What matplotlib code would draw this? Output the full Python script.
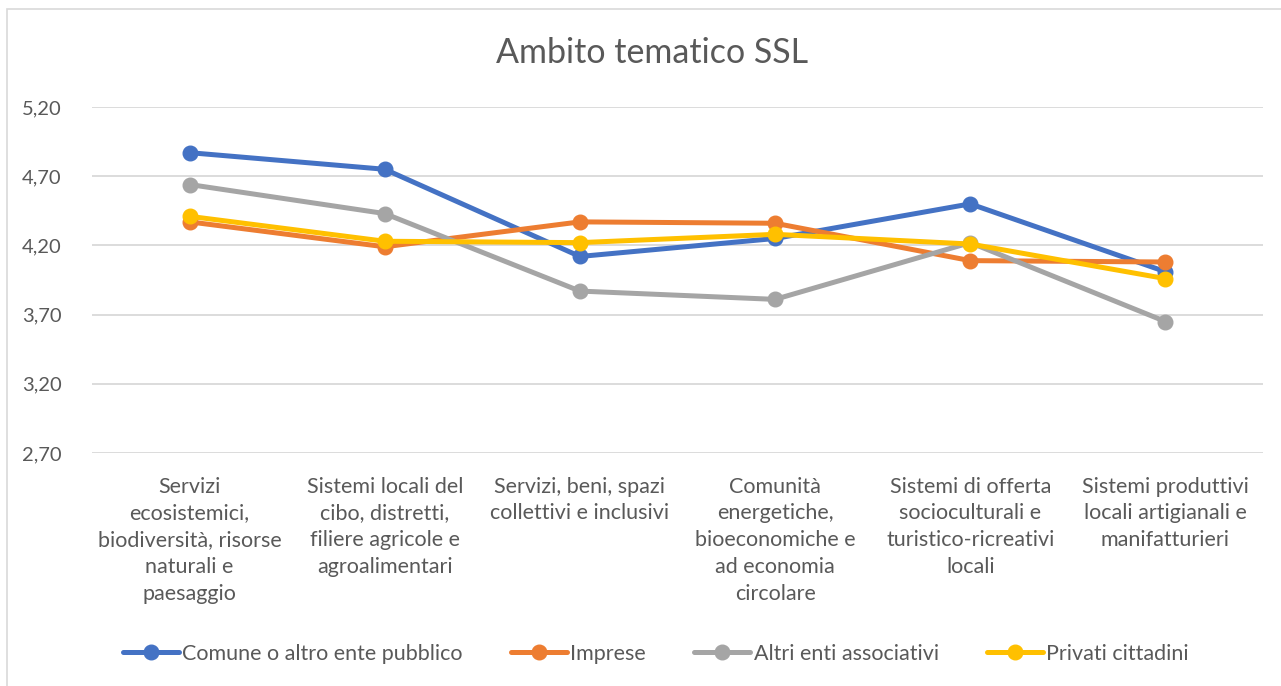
import matplotlib.pyplot as plt
from matplotlib.patches import Rectangle

categorie = ["Servizi\necosistemici,\nbiodiversità, risorse\nnaturali e\npaesaggio",
             "Sistemi locali del\ncibo, distretti,\nfiliere agricole e\nagroalimentari",
             "Servizi, beni, spazi\ncollettivi e inclusivi",
             "Comunità\nenergetiche,\nbioeconomiche e\nad economia\ncircolare",
             "Sistemi di offerta\nsocioculturali e\nturistico-ricreativi\nlocali",
             "Sistemi produttivi\nlocali artigianali e\nmanifatturieri"]

comune = [4.87, 4.75, 4.12, 4.25, 4.50, 4.01]
imprese = [4.37, 4.19, 4.37, 4.36, 4.09, 4.08]
altri_enti = [4.64, 4.43, 3.87, 3.81, 4.22, 3.65]
privati = [4.41, 4.23, 4.22, 4.28, 4.21, 3.96]

serie = ["Comune o altro ente pubblico", "Imprese", "Altri enti associativi", "Privati cittadini"]
colori = ["#4472C4", "#ED7D31", "#A5A5A5", "#FFC000"]

tick_y = [2.70, 3.20, 3.70, 4.20, 4.70, 5.20]

plt.rcParams['font.family'] = ['Lato', 'DejaVu Sans']
grigio = "#595959"

fig = plt.figure(figsize=(12.81, 6.86), dpi=100)
# cornice del grafico
fig.patches.append(Rectangle((7 / 1281, -0.01), 1.0, 1 - 9 / 686 + 0.01, transform=fig.transFigure,
                             fill=False, edgecolor="#D9D9D9", linewidth=1.2))

ax = fig.add_axes([92 / 1281, 1 - 453 / 686, (1263 - 92) / 1281, (453 - 107) / 686])
x = list(range(len(categorie)))
for valori, nome, col in zip([comune, imprese, altri_enti, privati], serie, colori):
    ax.plot(x, valori, color=col, linewidth=3.6, marker='o', markersize=10.5,
            label=nome, solid_capstyle='round', clip_on=False)

ax.set_xlim(-0.5, len(categorie) - 0.5)
ax.set_ylim(2.70, 5.20)
ax.set_yticks(tick_y)
ax.set_yticklabels([f"{v:.2f}".replace(".", ",") for v in tick_y])
ax.set_xticks(x)
ax.set_xticklabels(categorie, fontsize=15.5, color=grigio, linespacing=1.43)
ax.tick_params(axis='y', length=0, pad=22, labelsize=14.5, labelcolor=grigio)
ax.tick_params(axis='x', length=0, pad=17)
ax.grid(axis='y', color="#D9D9D9", linewidth=1.3)
ax.set_axisbelow(True)
for s in ax.spines.values():
    s.set_visible(False)

fig.text(652 / 1281, 1 - 53 / 686, "Ambito tematico SSL", ha='center', va='center',
         fontsize=24.5, color=grigio)

fig.legend(loc='center', bbox_to_anchor=(656 / 1281, 1 - 654 / 686), ncol=4, frameon=False,
           fontsize=15.5, handlelength=2.6, columnspacing=2.25, handletextpad=0.15,
           labelcolor=grigio)

fig.savefig("out.png", dpi=100)
